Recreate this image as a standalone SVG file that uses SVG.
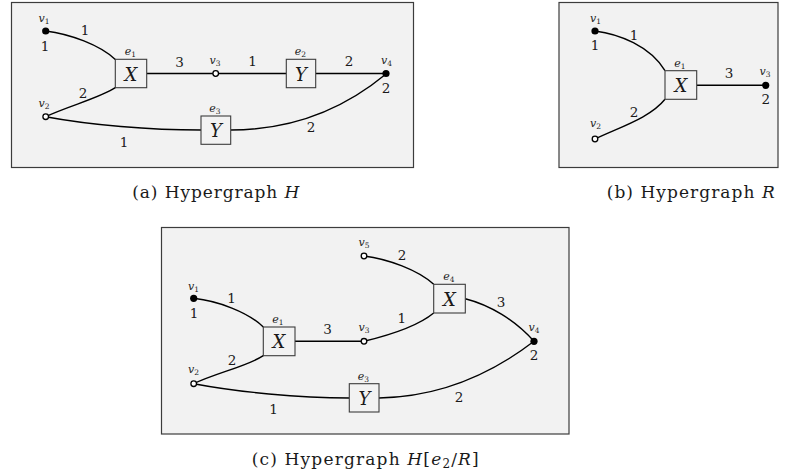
<svg xmlns="http://www.w3.org/2000/svg" width="793" height="474" viewBox="0 0 793 474">
<style>
.frame{fill:#f2f2f2;stroke:#3c3c3c;stroke-width:1.2}
.edge{fill:none;stroke:#000;stroke-width:1.4}
.box{fill:#f2f2f2;stroke:#3c3c3c;stroke-width:1.1}
.full{fill:#000}
.open{fill:#fff;stroke:#000;stroke-width:1.3}
.lbl{font-family:'DejaVu Serif',serif;font-size:13.5px;text-anchor:middle;fill:#1a1a1a}
.sym{font-family:'DejaVu Serif',serif;font-style:italic;font-size:18px;text-anchor:middle;fill:#1a1a1a}
.small{font-family:'DejaVu Serif',serif;font-style:italic;font-size:11px;text-anchor:middle;fill:#1a1a1a}
.sub{font-style:normal;font-size:7.5px}
.cap{font-family:'DejaVu Serif',serif;font-size:17px;fill:#1a1a1a}
.it{font-style:italic}
</style>
<rect width="793" height="474" fill="#fff"/>
<rect class="frame" x="11.5" y="2.5" width="402" height="165"/>
<rect class="frame" x="559" y="2.5" width="219" height="165"/>
<rect class="frame" x="161.5" y="227.5" width="407.5" height="206.5"/>

<g id="connectors">
  <path class="edge" d="M45.7,31 C70,34 100,45 115.3,59.5"/>
  <path class="edge" d="M45.7,116.7 C68,106 100,98 115.3,87.7"/>
  <path class="edge" d="M45.7,116.7 C90,125 150,130 201,130"/>
  <path class="edge" d="M230.7,130 C295,130 345,108 386,74"/>
  <path class="edge" d="M146.7,73.5 H215.7"/>
  <path class="edge" d="M215.7,73.5 H286.3"/>
  <path class="edge" d="M315.7,73.5 H386"/>
  <text class="lbl" x="85" y="35">1</text>
  <text class="lbl" x="83" y="97.5">2</text>
  <text class="lbl" x="179.5" y="66.7">3</text>
  <text class="lbl" x="252.5" y="65.7">1</text>
  <text class="lbl" x="349" y="65.7">2</text>
  <text class="lbl" x="124" y="146.7">1</text>
  <text class="lbl" x="311" y="131.7">2</text>
  <path class="edge" d="M595,31 C619,34 650,46 665,70.7"/>
  <path class="edge" d="M595,139 C620,127 650,118 665,99.3"/>
  <path class="edge" d="M696.7,85.3 H765.7"/>
  <text class="lbl" x="634" y="40">1</text>
  <text class="lbl" x="634" y="116.7">2</text>
  <text class="lbl" x="729" y="78">3</text>
  <path class="edge" d="M193.7,298.3 C218,301 248,312 263.3,327"/>
  <path class="edge" d="M193.7,383.7 C216,373 248,366 263.3,355.7"/>
  <path class="edge" d="M193.7,383.7 C238,392 298,398 349.3,398"/>
  <path class="edge" d="M295,341.3 H364"/>
  <path class="edge" d="M364,256 C388,259 418,270 433.7,284.3"/>
  <path class="edge" d="M364,341.3 C386,336 418,326 433.7,313"/>
  <path class="edge" d="M465.3,298.7 C490,305 515,320 534,341.3"/>
  <path class="edge" d="M379,398 C440,397 490,375 534,341.3"/>
  <text class="lbl" x="231.5" y="303">1</text>
  <text class="lbl" x="232" y="365">2</text>
  <text class="lbl" x="273.5" y="414.3">1</text>
  <text class="lbl" x="327.5" y="334.3">3</text>
  <text class="lbl" x="402" y="260">2</text>
  <text class="lbl" x="401.7" y="323.3">1</text>
  <text class="lbl" x="501" y="306.7">3</text>
  <text class="lbl" x="459" y="401.7">2</text>
</g>

<g id="a-v1">
  <circle class="full" cx="45.7" cy="31" r="3.6"/>
  <text class="small" x="44" y="22">v<tspan class="sub" dy="2">1</tspan></text>
  <text class="lbl" x="45" y="50.5">1</text>
</g>
<g id="a-v2">
  <circle class="open" cx="45.7" cy="116.7" r="2.8"/>
  <text class="small" x="44" y="107">v<tspan class="sub" dy="2">2</tspan></text>
</g>
<g id="a-v3">
  <circle class="open" cx="215.7" cy="73.5" r="2.8"/>
  <text class="small" x="215" y="64">v<tspan class="sub" dy="2">3</tspan></text>
</g>
<g id="a-v4">
  <circle class="full" cx="386" cy="73.5" r="3.6"/>
  <text class="small" x="386.5" y="63.5">v<tspan class="sub" dy="2">4</tspan></text>
  <text class="lbl" x="386" y="92.7">2</text>
</g>
<g id="a-e1">
  <rect class="box" x="115.3" y="59.3" width="31.4" height="28.4"/>
  <text class="small" x="130.5" y="55">e<tspan class="sub" dy="2">1</tspan></text>
  <text class="sym" x="131" y="81">X</text>
</g>
<g id="a-e2">
  <rect class="box" x="286.3" y="59.3" width="29.4" height="28.4"/>
  <text class="small" x="300.5" y="55">e<tspan class="sub" dy="2">2</tspan></text>
  <text class="sym" x="301" y="81">Y</text>
</g>
<g id="a-e3">
  <rect class="box" x="201" y="116" width="29.7" height="28.3"/>
  <text class="small" x="215" y="111.5">e<tspan class="sub" dy="2">3</tspan></text>
  <text class="sym" x="216" y="137.3">Y</text>
</g>
<text class="cap" x="132.3" y="198" textLength="167" lengthAdjust="spacing">(a) Hypergraph <tspan class="it">H</tspan></text>

<g id="b-v1">
  <circle class="full" cx="595" cy="31" r="3.6"/>
  <text class="small" x="595.5" y="21.5">v<tspan class="sub" dy="2">1</tspan></text>
  <text class="lbl" x="595" y="50">1</text>
</g>
<g id="b-v2">
  <circle class="open" cx="595" cy="139" r="2.8"/>
  <text class="small" x="595.5" y="127">v<tspan class="sub" dy="2">2</tspan></text>
</g>
<g id="b-v3">
  <circle class="full" cx="765.7" cy="85.3" r="3.6"/>
  <text class="small" x="765" y="74.5">v<tspan class="sub" dy="2">3</tspan></text>
  <text class="lbl" x="765.7" y="104.3">2</text>
</g>
<g id="b-e1">
  <rect class="box" x="665" y="70.7" width="31.7" height="28.6"/>
  <text class="small" x="680" y="66.5">e<tspan class="sub" dy="2">1</tspan></text>
  <text class="sym" x="681" y="92">X</text>
</g>
<text class="cap" x="606.7" y="198" textLength="168" lengthAdjust="spacing">(b) Hypergraph <tspan class="it">R</tspan></text>

<g id="c-v1">
  <circle class="full" cx="193.7" cy="298.3" r="3.6"/>
  <text class="small" x="193.5" y="289.5">v<tspan class="sub" dy="2">1</tspan></text>
  <text class="lbl" x="194" y="318">1</text>
</g>
<g id="c-v2">
  <circle class="open" cx="193.7" cy="383.7" r="2.8"/>
  <text class="small" x="193.5" y="372.5">v<tspan class="sub" dy="2">2</tspan></text>
</g>
<g id="c-v3">
  <circle class="open" cx="364" cy="341.3" r="2.8"/>
  <text class="small" x="364" y="330.5">v<tspan class="sub" dy="2">3</tspan></text>
</g>
<g id="c-v4">
  <circle class="full" cx="534" cy="341.3" r="3.6"/>
  <text class="small" x="534" y="331">v<tspan class="sub" dy="2">4</tspan></text>
  <text class="lbl" x="534" y="360">2</text>
</g>
<g id="c-v5">
  <circle class="open" cx="364" cy="256" r="2.8"/>
  <text class="small" x="364" y="245.5">v<tspan class="sub" dy="2">5</tspan></text>
</g>
<g id="c-e1">
  <rect class="box" x="263.3" y="327" width="31.7" height="28.7"/>
  <text class="small" x="278" y="322.5">e<tspan class="sub" dy="2">1</tspan></text>
  <text class="sym" x="279" y="348">X</text>
</g>
<g id="c-e3">
  <rect class="box" x="349.3" y="383.7" width="29.7" height="28.3"/>
  <text class="small" x="363.5" y="380">e<tspan class="sub" dy="2">3</tspan></text>
  <text class="sym" x="364.5" y="404.5">Y</text>
</g>
<g id="c-e4">
  <rect class="box" x="433.7" y="284.3" width="31.6" height="28.7"/>
  <text class="small" x="449" y="279.5">e<tspan class="sub" dy="2">4</tspan></text>
  <text class="sym" x="449.5" y="305.5">X</text>
</g>
<text class="cap" x="251.7" y="465" textLength="227" lengthAdjust="spacing">(c) Hypergraph <tspan class="it">H</tspan>[<tspan class="it">e</tspan><tspan font-size="12" dy="3">2</tspan><tspan dy="-3">/</tspan><tspan class="it">R</tspan>]</text>
</svg>
